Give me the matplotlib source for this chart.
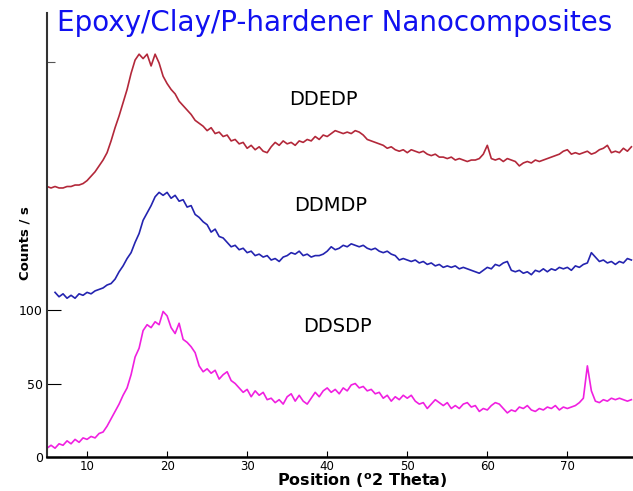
import numpy as np
import matplotlib.pyplot as plt

# scan positions (deg 2 theta), 0.5 deg step
two_theta = np.arange(5.0, 78.5, 0.5)

# DDSDP (bottom trace, counts/s)
ddsdp = [6, 8, 6, 9, 8, 11, 9, 12, 10, 13, 12, 14, 13, 16, 17, 21, 26, 31, 36, 42,
         47, 56, 68, 74, 86, 90, 88, 92, 90, 99, 96, 88, 84, 91, 80, 78, 75, 71, 62, 58,
         60, 57, 59, 53, 56, 58, 52, 50, 47, 44, 46, 41, 45, 42, 44, 39, 40, 37, 39, 36,
         41, 43, 38, 42, 38, 36, 40, 44, 41, 45, 47, 44, 46, 43, 47, 45, 49, 50, 47, 48,
         45, 46, 43, 44, 40, 42, 38, 41, 39, 42, 40, 42, 38, 36, 37, 33, 36, 39, 37, 35,
         37, 33, 35, 33, 36, 37, 34, 35, 31, 33, 32, 35, 37, 36, 33, 30, 32, 31, 34, 33,
         35, 32, 31, 33, 32, 34, 33, 35, 32, 34, 33, 34, 35, 37, 40, 62, 45, 38, 37, 39,
         38, 40, 39, 40, 39, 38, 39]

# DDMDP (middle trace, starts at 6 deg)
ddmdp = [12, 9, 11, 8, 10, 8, 11, 10, 12, 11, 13, 14, 15, 17, 18, 21, 26, 30, 35, 39,
         46, 52, 61, 66, 71, 77, 80, 78, 80, 76, 78, 74, 75, 70, 71, 65, 63, 60, 58, 53,
         55, 50, 49, 46, 43, 44, 41, 42, 39, 40, 37, 38, 36, 37, 34, 35, 33, 36, 37, 39,
         38, 40, 37, 38, 36, 37, 37, 38, 40, 43, 41, 42, 44, 43, 45, 44, 43, 44, 42, 41,
         42, 40, 39, 40, 38, 37, 34, 35, 34, 33, 34, 32, 33, 31, 32, 30, 31, 29, 30, 29,
         30, 28, 29, 28, 27, 26, 25, 27, 29, 28, 31, 30, 32, 33, 27, 26, 27, 25, 26, 24,
         27, 26, 28, 26, 28, 27, 29, 28, 29, 27, 30, 29, 31, 32, 39, 36, 33, 34, 32, 33,
         31, 33, 32, 35, 34]

# DDEDP (top trace)
ddedp = [4, 3, 4, 3, 3, 4, 4, 5, 5, 6, 8, 11, 14, 18, 22, 27, 35, 44, 52, 61,
         70, 81, 90, 94, 91, 94, 86, 94, 88, 79, 74, 70, 67, 62, 59, 56, 53, 49, 47, 45,
         42, 44, 40, 41, 38, 39, 35, 36, 33, 34, 30, 32, 29, 31, 28, 27, 31, 34, 32, 35,
         33, 34, 32, 35, 34, 36, 35, 38, 36, 39, 38, 40, 42, 41, 40, 41, 40, 42, 41, 39,
         36, 35, 34, 33, 32, 30, 31, 29, 28, 29, 27, 29, 28, 27, 28, 26, 25, 26, 24, 24,
         23, 24, 22, 23, 22, 21, 22, 22, 23, 26, 32, 23, 22, 23, 21, 23, 22, 21, 18, 20,
         21, 20, 22, 21, 22, 23, 24, 25, 26, 28, 29, 26, 27, 26, 27, 28, 26, 27, 29, 30,
         32, 27, 28, 27, 30, 28, 31]

labels = ['DDEDP', 'DDMDP', 'DDSDP']
colors = ['#b3283a', '#2424b0', '#f020e0']
offsets = [180, 100, 0]

fig = plt.figure(figsize=(6.33, 4.91), dpi=100)
ax = fig.add_axes([0.0743, 0.0692, 0.9257, 0.9043])

ax.plot(two_theta, np.array(ddedp) + offsets[0], color=colors[0], lw=1.2)
ax.plot(two_theta[2:], np.array(ddmdp) + offsets[1], color=colors[1], lw=1.2)
ax.plot(two_theta, np.array(ddsdp) + offsets[2], color=colors[2], lw=1.2)

ax.set_xlim(5, 78.2)
ax.set_ylim(0, 302)

ax.text(39.5, 243, labels[0], fontsize=14, ha='center', va='center')
ax.text(40.4, 171, labels[1], fontsize=14, ha='center', va='center')
ax.text(41.3, 89, labels[2], fontsize=14, ha='center', va='center')

ax.spines['top'].set_visible(False)
ax.spines['right'].set_visible(False)
ax.spines['left'].set_linewidth(1.5)
ax.spines['left'].set_color('#333333')
ax.spines['bottom'].set_linewidth(1.8)

ax.set_xticks([10, 20, 30, 40, 50, 60, 70])
ax.set_yticks([0, 50, 100])
ax.set_yticks([269], minor=True)
ax.tick_params(axis='y', direction='in', length=10, width=0.8, pad=3, labelsize=9)
ax.tick_params(axis='y', which='minor', direction='in', length=6, width=0.8, color='#555555')
ax.tick_params(axis='x', direction='in', length=4, width=0.8, pad=2, labelsize=8.5)

fig.text(0.09, 1 - 23 / 491, 'Epoxy/Clay/P-hardener Nanocomposites', color='#1010f0',
         fontsize=20, ha='left', va='center')
fig.text(0.04, 1 - 243 / 491, 'Counts / s', rotation=90, fontsize=9.5,
         fontweight='bold', ha='center', va='center')
fig.text(0.573, 1 - 481 / 491, r'Position ($\mathbf{^o}$2 Theta)', fontsize=11.5,
         fontweight='bold', ha='center', va='center')

fig.savefig('out.png', dpi=100)
